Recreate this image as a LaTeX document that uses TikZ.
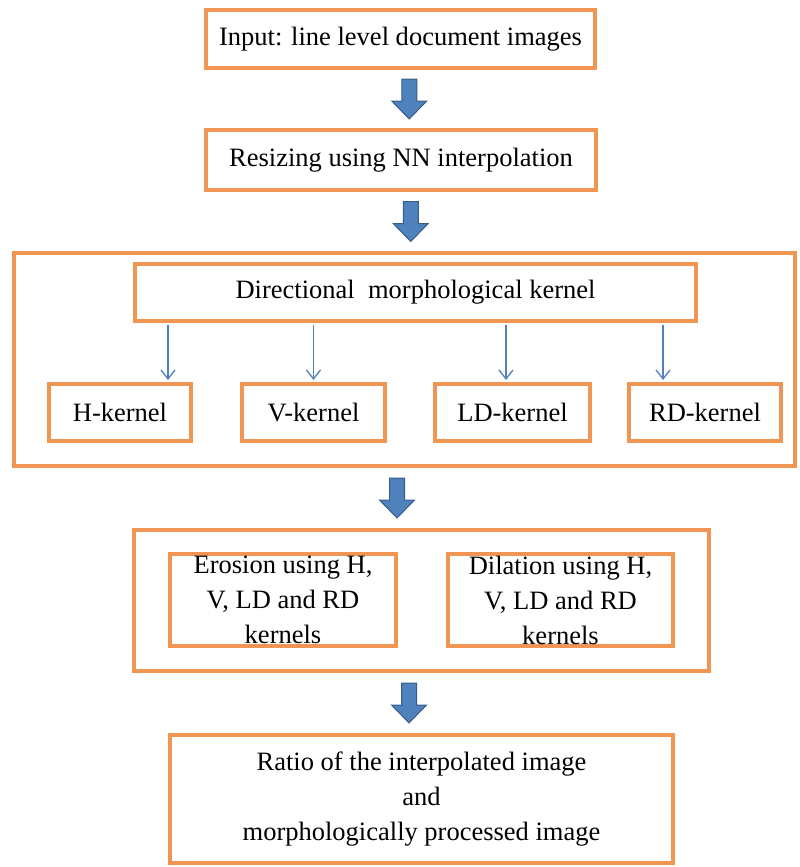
\documentclass[tikz,border=0pt]{standalone}
\usepackage{fontspec}
\setmainfont{Liberation Serif}
\usepackage{tikz}
\usetikzlibrary{arrows.meta, positioning, calc}
\definecolor{boxorange}{RGB}{240,150,82}
\definecolor{arrowblue}{RGB}{79,129,189}
\definecolor{arrowedge}{RGB}{56,93,138}

\begin{document}
\begin{tikzpicture}[x=1pt, y=-1pt,
    box/.style={draw=boxorange, line width=4pt, fill=white, inner sep=2pt, align=center, font=\fontsize{26.5}{35}\selectfont},
    kbox/.style={box, minimum height=57pt},
    thinarrow/.style={-{Straight Barb[length=9pt, width=14pt]}, draw=arrowblue, line width=1.3pt, shorten <=2pt, shorten >=2pt},
    pics/bigarrow/.style={code={
        \draw[fill=arrowblue, draw=arrowedge, line width=1pt] (-7.5,-20) -- (7.5,-20) -- (7.5,2) -- (17.5,2) -- (0,20) -- (-17.5,2) -- (-7.5,2) -- cycle;}}]
    \useasboundingbox (0,0) rectangle (800,867);

    \node[box, minimum width=389pt, minimum height=58pt] (input) at (400.5,39) {Input: line level document images};
    \node[box, minimum width=390pt, minimum height=60pt] (resize) at (401,160) {Resizing using NN interpolation};

    % kernel stage
    \node[box, minimum width=781pt, minimum height=213pt] (kernels) at (404.5,359.5) {};
    \node[box, minimum width=561pt, minimum height=57pt] (dir) at (415.5,292.5) {Directional\ \ morphological kernel};
    \node[kbox, minimum width=142pt] (hk) at (120,412.5) {H-kernel};
    \node[kbox, minimum width=143pt] (vk) at (313.5,412.5) {V-kernel};
    \node[kbox, minimum width=155pt] (ldk) at (512.5,412.5) {LD-kernel};
    \node[kbox, minimum width=152pt] (rdk) at (705,412.5) {RD-kernel};

    \draw[thinarrow] ([xshift=48pt]hk.north |- dir.south) -- ([xshift=48pt]hk.north);
    \draw[thinarrow] (vk.north |- dir.south) -- (vk.north);
    \draw[thinarrow] ([xshift=-6.5pt]ldk.north |- dir.south) -- ([xshift=-6.5pt]ldk.north);
    \draw[thinarrow] ([xshift=-42pt]rdk.north |- dir.south) -- ([xshift=-42pt]rdk.north);

    % morphology stage
    \node[box, minimum width=575pt, minimum height=141pt] (morph) at (421.5,600.5) {};
    \node[box, inner sep=0pt, text depth=0pt, minimum width=226pt, minimum height=92pt] (erosion) at (283,600) {Erosion using H,\\ V, LD and RD\\ kernels};
    \node[box, inner sep=0pt, text depth=0pt, minimum width=225pt, minimum height=92pt] (dilation) at (560.5,600) {Dilation using H,\\ V, LD and RD\\ kernels};

    \node[box, minimum width=503pt, minimum height=128pt] (ratio) at (421.5,799) {Ratio of the interpolated image\\ and\\ morphologically processed image};

    \pic at ($(input.south)!0.5!(resize.north)+(8.5,0)$) {bigarrow};
    \pic at ($(resize.south)!0.5!(kernels.north)+(8,0)$) {bigarrow};
    \pic at ($(kernels.south)!0.5!(morph.north)+(-16,0)$) {bigarrow};
    \pic at ($(morph.south)!0.5!(ratio.north)+(-12.5,0)$) {bigarrow};
\end{tikzpicture}
\end{document}
